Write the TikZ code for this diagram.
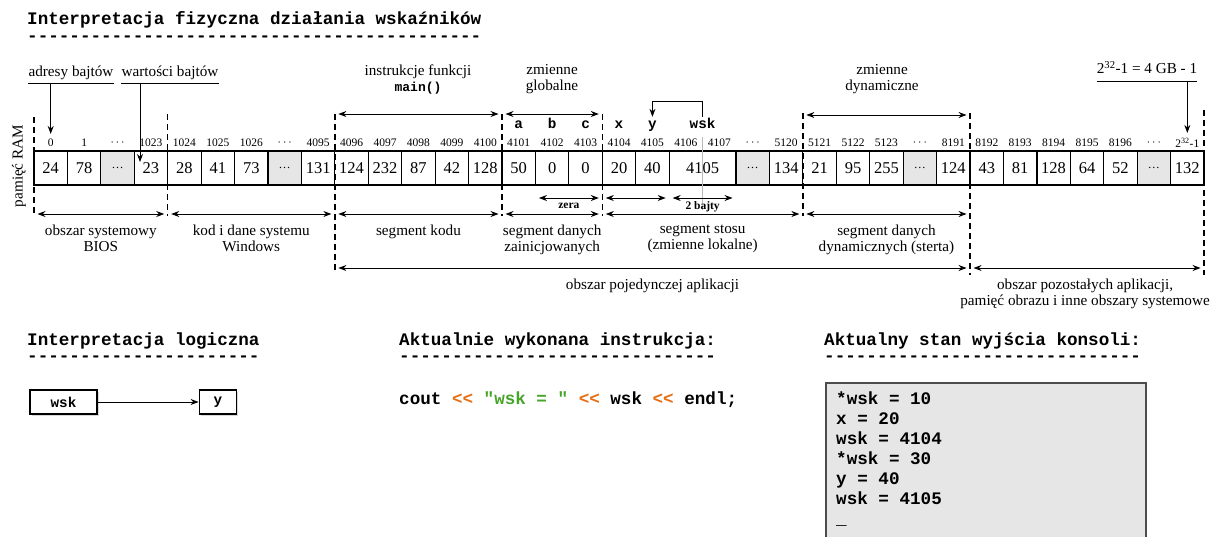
\documentclass[tikz,border=0pt]{standalone}
\usepackage{fontspec}
\setmainfont{Liberation Serif}
\setmonofont{Liberation Mono}
\usetikzlibrary{arrows.meta,shadows}
\definecolor{kpom}{RGB}{230,110,20}
\definecolor{kziel}{RGB}{70,165,40}
\definecolor{tlo}{RGB}{230,230,230}
\newcommand{\adrk}{$\cdots$}
\newcommand{\kropki}{{\fontsize{12}{12}\selectfont\dots}}

\begin{document}
\begin{tikzpicture}[>={Stealth[length=8pt,width=6pt]},x=1pt,y=-1pt,
		opis/.style={font=\fontsize{15.2}{16.2}\selectfont,align=center,inner sep=0pt},
		adres/.style={font=\fontsize{11.5}{12}\selectfont,inner sep=2pt},
		wartosc/.style={font=\fontsize{16.5}{18}\selectfont},
		zmienna/.style={font=\ttfamily\bfseries\fontsize{14.3}{16}\selectfont,text height=9pt,text depth=3pt,inner sep=2pt},
		naglowek/.style={font=\ttfamily\bfseries\fontsize{17.6}{20}\selectfont,anchor=west,inner sep=0pt},
		mala/.style={font=\bfseries\fontsize{11.5}{12}\selectfont,inner sep=0pt},
		wym/.style={<->,line width=0.9pt,shorten <=3.5pt,shorten >=3.5pt},
		wskaz/.style={->,line width=0.9pt,shorten >=3pt},
		przerywana/.style={line width=1.4pt,dash pattern=on 6pt off 4pt},
		ramka/.style={draw,line width=1.1pt,fill=white,minimum height=24pt,font=\ttfamily\bfseries\fontsize{14.3}{16}\selectfont,drop shadow={shadow xshift=1.5pt,shadow yshift=-1.5pt,opacity=0.3}}]
		\useasboundingbox (0,0) rectangle (1213,536);
		\clip (0,0) rectangle (1213,536);
		\node[naglowek] (tytul) at (27,20) {Interpretacja fizyczna działania wskaźników};
		\node[naglowek] (tytul kreski) at (27,38.5) {-------------------------------------------};
		\node[opis,rotate=90] (ram) at (19,166) {pamięć RAM};
		\foreach \i in {0,...,35}
			\coordinate (g\i) at ({34+33.43*\i},0);
		\foreach \i/\gora/\dol in {0/117/216,4/114/216,9/114/272,14/114/216,17/114/216,23/113/216,28/113/275,35/110/275}
			\draw[przerywana] (g\i |- 0,\gora) -- (g\i |- 0,\dol);
		\foreach \i in {2,7,21,26,33}
			\fill[tlo] (g\i |- 0,151) rectangle ++(33.43,34);
		\draw[line width=1.2pt] (g0 |- 0,151) rectangle (g35 |- 0,185);
		\foreach \i in {1,...,19,21,22,...,34}
			\draw[line width=1.2pt] (g\i |- 0,151) -- (g\i |- 0,185);
		\foreach \i/\wart in {0/24,1/78,2/\kropki,3/23,4/28,5/41,6/73,7/\kropki,8/131,9/124,10/232,11/87,12/42,13/128,14/50,15/0,16/0,17/20,18/40,21/\kropki,22/134,23/21,24/95,25/255,26/\kropki,27/124,28/43,29/81,30/128,31/64,32/52,33/\kropki,34/132}
			\node[wartosc,xshift=16.7pt] (v\i) at (g\i |- 0,168) {\wart};
		\node[wartosc] (v19) at (g20 |- 0,168) {4105};
		\foreach \i/\adr in {0/0,1/1,2/\adrk,3/1023,4/1024,5/1025,6/1026,7/\adrk,8/4095,9/4096,10/4097,11/4098,12/4099,13/4100,14/4101,15/4102,16/4103,17/4104,18/4105,19/4106,20/4107,21/\adrk,22/5120,23/5121,24/5122,25/5123,26/\adrk,27/8191,28/8192,29/8193,30/8194,31/8195,32/8196,33/\adrk,34/2\textsuperscript{32}-1}
			\node[adres,xshift=16.7pt] (a\i) at (g\i |- 0,143) {\adr};
		\foreach \i/\nazwa in {14/a,15/b,16/c,17/x,18/y}
			\node[zmienna,xshift=16.7pt] (z\nazwa) at (g\i |- 0,125) {\nazwa};
		\node[zmienna] (zwsk) at (g20 |- 0,125) {wsk};
		\draw[->,line width=0.9pt] (zwsk.north) -- ++(0,-15) -| (zy.north);
		\draw[gray!55,line width=1pt] (g20 |- 0,137) -- (g20 |- 0,210);
		\node[opis,inner ysep=3.3pt] (adresy) at (71,73.3) {adresy bajtów};
		\draw[line width=0.9pt] (adresy.south west) -- (adresy.south east);
		\draw[wskaz] (adresy.south -| a0) -- (a0.north);
		\node[opis,inner ysep=3.3pt] (wartosci) at (170,73.3) {wartości bajtów};
		\draw[line width=0.9pt] (wartosci.south west) -- (wartosci.south east);
		\coordinate (cel) at (140,162);
		\draw[->,line width=0.9pt] (wartosci.south -| cel) -- (cel);
		\node[opis,inner ysep=7.3pt] (gb) at (1147,67.4) {2\textsuperscript{32}-1 = 4 GB - 1};
		\draw[line width=0.9pt] (gb.south west) -- (gb.south east);
		\draw[wskaz] (gb.south -| a34) -- (a34.north);
		\draw[wym] (g9 |- 0,114) -- (g14 |- 0,114);
		\draw[wym] (g14 |- 0,114) -- (g17 |- 0,114);
		\draw[wym] (g23 |- 0,115) -- (g28 |- 0,115);
		\node[opis] (instr) at (418,79.5) {instrukcje funkcji\\{\ttfamily\bfseries\fontsize{13}{15}\selectfont main()}};
		\node[opis] (glob) at (552,79) {zmienne\\globalne};
		\node[opis] (dyn) at (882,79) {zmienne\\dynamiczne};
		\draw[wym] (g15 |- 0,198) -- node[mala,below=5pt] (zera) {zera} (g17 |- 0,198);
		\draw[wym] (g17 |- 0,198) -- (g19 |- 0,198);
		\draw[wym] (g19 |- 0,198) -- node[mala,below=3pt] (bajty) {2 bajty} (g21 |- 0,198);
		\draw[wym] (g0 |- 0,214) -- node[opis,below=10.5pt] (bios) {obszar systemowy\\BIOS} (g4 |- 0,214);
		\draw[wym] (g4 |- 0,214) -- node[opis,below=10.5pt] (win) {kod i dane systemu\\Windows} (g9 |- 0,214);
		\draw[wym] (g9 |- 0,214) -- node[opis,below=10.5pt] (kod) {segment kodu} (g14 |- 0,214);
		\draw[wym] (g14 |- 0,214) -- node[opis,below=10.5pt] (dane) {segment danych\\zainicjowanych} (g17 |- 0,214);
		\draw[wym] (g17 |- 0,214) -- node[opis,below=10.5pt] (stos) {segment stosu\\(zmienne lokalne)} (g23 |- 0,214);
		\draw[wym] (g23 |- 0,214) -- node[opis,below=10.5pt] (sterta) {segment danych\\dynamicznych (sterta)} (g28 |- 0,214);
		\draw[wym] (g9 |- 0,268) -- node[opis,below=10.5pt] (aplikacja) {obszar pojedynczej aplikacji} (g28 |- 0,268);
		\draw[wym] (g28 |- 0,268) -- node[opis,below=10.5pt,xshift=-2pt] (reszta) {obszar pozostałych aplikacji,\\pamięć obrazu i inne obszary systemowe} (g35 |- 0,268);
		\node[naglowek] (logika) at (27,341) {Interpretacja logiczna};
		\node[naglowek] (logika kreski) at (27,359) {----------------------};
		\node[ramka,minimum width=67pt] (lwsk) at (63.5,402) {wsk};
		\node[ramka,minimum width=37.7pt] (ly) at (218,402) {y};
		\draw[->,line width=0.9pt] (lwsk) -- (ly);
		\node[naglowek] (wykonana) at (399,341) {Aktualnie wykonana instrukcja:};
		\node[naglowek] (wykonana kreski) at (399,359) {------------------------------};
		\node[naglowek] (instrukcja) at (399,400) {cout \textcolor{kpom}{<<} \textcolor{kziel}{"wsk = "} \textcolor{kpom}{<<} wsk \textcolor{kpom}{<<} endl;};
		\node[naglowek] (stan) at (824,341) {Aktualny stan wyjścia konsoli:};
		\node[naglowek] (stan kreski) at (824,359) {------------------------------};
		\draw[fill=tlo,draw=black!70,line width=1.5pt] (826,383) rectangle (1146,545);
		\node[naglowek,anchor=north west,align=left] (wyjscie) at (836,392) {*wsk = 10\\x = 20\\wsk = 4104\\{}*wsk = 30\\y = 40\\wsk = 4105\\\_};
\end{tikzpicture}
\end{document}
